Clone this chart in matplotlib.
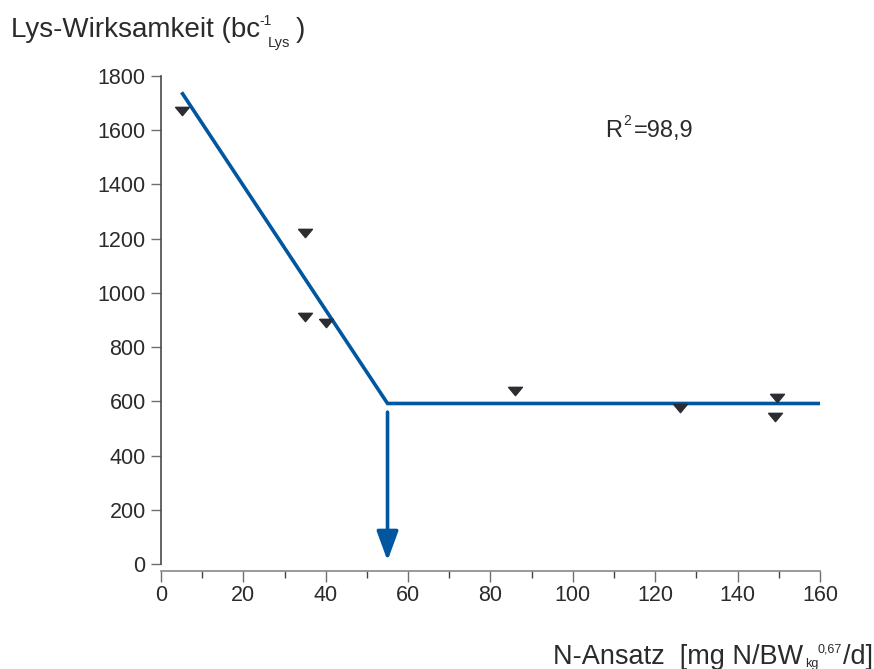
import numpy as np
import matplotlib
matplotlib.use("Agg")
import matplotlib.pyplot as plt
from matplotlib.ticker import MultipleLocator

# data
n_ansatz = [5, 35, 35, 40, 86, 126, 149.5, 149]
lys_wirk = [1670, 1220, 910, 890, 638, 574, 611, 541]

# broken-line fit
fit_x = [5, 55, 160]
fit_y = [1740, 592, 592]
break_x = 55

plt.rcParams['font.family'] = ['Liberation Sans', 'DejaVu Sans']

txt = '#2b2b2b'
blue = '#0057a0'
axcol = '#6f6f6f'

W, H = 874, 669
fig = plt.figure(figsize=(W / 100, H / 100), dpi=100)
ax = fig.add_axes([0.1842, 0.157, 0.754, 0.7294])


def ftext(x, y, s, size):
    # place text by pixel position (left edge, baseline)
    fig.text(x / W, 1 - y / H, s, fontsize=size, color=txt, ha='left', va='baseline')


tri = [(-1, 0.6), (1, 0.6), (0, -0.6), (-1, 0.6)]
ax.plot(fit_x, fit_y, color=blue, lw=2.6, solid_capstyle='butt', solid_joinstyle='miter', zorder=2)
ax.plot(n_ansatz, lys_wirk, ls='none', marker=tri, ms=10, color='#2b2d30', zorder=3)

# arrow down to the break point
ax.annotate('', xy=(break_x, 12), xytext=(break_x, 560),
            arrowprops=dict(arrowstyle='-|>,head_length=0.9,head_width=0.33',
                            mutation_scale=20, lw=2.6, color=blue,
                            shrinkA=0, shrinkB=0))

ax.set_xlim(0, 160)
ax.set_ylim(0, 1800)
ax.xaxis.set_major_locator(MultipleLocator(20))
ax.xaxis.set_minor_locator(MultipleLocator(10))
ax.yaxis.set_major_locator(MultipleLocator(200))

for s in ['top', 'right']:
    ax.spines[s].set_visible(False)
ax.spines['bottom'].set_position(('outward', 5))
ax.spines['left'].set_color('#4a4a4a')
ax.spines['bottom'].set_color('#888888')
ax.spines['left'].set_linewidth(1.2)
ax.spines['bottom'].set_linewidth(1.2)

ax.tick_params(axis='both', which='major', labelsize=15.5, labelcolor=txt, color=axcol, width=1)
ax.tick_params(axis='y', length=7, pad=4)
ax.tick_params(axis='x', which='major', length=8, pad=2)
ax.tick_params(axis='x', which='minor', length=5, color='#444444', width=1)

# y label: Lys-Wirksamkeit (bc^-1_Lys )
ftext(11, 37, "Lys-Wirksamkeit (bc", 20)
ftext(259, 25, "-1", 10)
ftext(268, 47, "Lys", 10.5)
ftext(296, 37, ")", 20)

# x label: N-Ansatz [mg N/BW_kg^0,67/d]
ftext(553, 664, "N-Ansatz  [mg N/BW", 19.5)
ftext(805, 667, "kg", 9)
ftext(818, 652, "0,67", 9)
ftext(843, 664, "/d]", 19.5)

# R^2
ftext(605, 137, "R", 17)
ftext(623, 125, "2", 10)
ftext(634, 137, "=98,9", 17)

fig.savefig('out.png', dpi=100)
